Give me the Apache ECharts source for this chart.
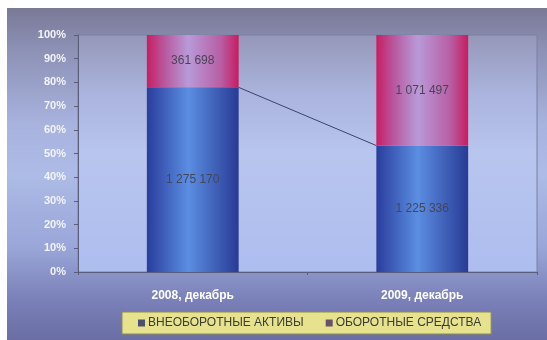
<!DOCTYPE html>
<html><head><meta charset="utf-8">
<script src="https://cdn.jsdelivr.net/npm/echarts@6/dist/echarts.min.js"></script>
<style>
html,body{margin:0;padding:0;background:#fff;}
#panel{position:absolute;left:7px;top:8px;width:540px;height:332px;
background:linear-gradient(to bottom,#7a7997 0%,#8c90b4 12%,#a8b3de 35%,#adbbe6 50%,#9aa6d8 72%,#7a80b8 88%,#6a6ea4 100%);}
#chart{position:absolute;left:0;top:0;width:547px;height:340px;}
</style></head>
<body>
<div id="panel"></div>
<div id="chart"></div>
<script>
const categories = ['2008, декабрь', '2009, декабрь'];
const seriesNames = ['ВНЕОБОРОТНЫЕ АКТИВЫ', 'ОБОРОТНЫЕ СРЕДСТВА'];
const nonCurrentAssets = [1275170, 1225336];
const currentAssets = [361698, 1071497];
const yTicks = [0, 10, 20, 30, 40, 50, 60, 70, 80, 90, 100];

const totals = nonCurrentAssets.map((v, i) => v + currentAssets[i]);
const pctNon = nonCurrentAssets.map((v, i) => v / totals[i] * 100);
const pctCur = currentAssets.map((v, i) => v / totals[i] * 100);
const fmt = v => String(v).replace(/\B(?=(\d{3})+(?!\d))/g, ' ');

const FONT = 'Liberation Sans';
const chart = echarts.init(document.getElementById('chart'), null, {renderer: 'canvas'});
const blueGrad = new echarts.graphic.LinearGradient(0, 0, 1, 0, [
  {offset: 0, color: '#2a3d9c'}, {offset: 0.45, color: '#5b8ee2'}, {offset: 1, color: '#283a94'}]);
const pinkGrad = new echarts.graphic.LinearGradient(0, 0, 1, 0, [
  {offset: 0, color: '#c81e62'}, {offset: 0.2, color: '#b85aa0'}, {offset: 0.45, color: '#b89ad8'}, {offset: 0.8, color: '#b860a6'}, {offset: 1, color: '#c81c5e'}]);

chart.setOption({
  backgroundColor: 'transparent',
  animation: false,
  grid: {
    left: 78, right: 10, top: 35, bottom: 68, show: true,
    backgroundColor: new echarts.graphic.LinearGradient(0, 0, 0, 1, [
      {offset: 0, color: '#9597b8'}, {offset: 0.25, color: '#aab4de'}, {offset: 0.5, color: '#b8c5ee'}, {offset: 1, color: '#adbdee'}]),
    borderColor: '#7a80a4', borderWidth: 1
  },
  legend: {
    data: [
      {name: seriesNames[0], itemStyle: {color: '#4c5070'}},
      {name: seriesNames[1], itemStyle: {color: '#6a5068'}}
    ],
    top: 312, left: 122, icon: 'rect', itemWidth: 7, itemHeight: 7, itemGap: 22,
    padding: [5, 10, 5, 16],
    backgroundColor: '#e6e28e', borderColor: '#8e8a52', borderWidth: 1,
    textStyle: {fontFamily: FONT, fontSize: 12, color: '#3c3c34', padding: [0, 0, 0, -2]}
  },
  xAxis: {
    type: 'category', data: categories,
    axisLine: {lineStyle: {color: '#5a5e78'}},
    axisTick: {show: true, length: 3, lineStyle: {color: '#5a5e78'}},
    axisLabel: {color: '#ffffff', fontFamily: FONT, fontWeight: 'bold', fontSize: 12, margin: 18}
  },
  yAxis: {
    type: 'value', min: 0, max: 100, interval: 10,
    splitLine: {show: false},
    axisLine: {show: true, lineStyle: {color: '#5a5e78'}},
    axisTick: {show: true, length: 4, lineStyle: {color: '#5a5e78'}},
    axisLabel: {formatter: v => yTicks.includes(v) ? v + '%' : '', color: '#f4f4fa', fontFamily: FONT, fontWeight: 'bold', fontSize: 11, margin: 12}
  },
  series: [
    {
      name: seriesNames[0], type: 'bar', stack: 's', barWidth: '40%',
      data: pctNon, itemStyle: {color: blueGrad},
      label: {show: true, position: 'inside', formatter: p => fmt(nonCurrentAssets[p.dataIndex]), color: '#44465a', fontFamily: FONT, fontSize: 12}
    },
    {
      name: seriesNames[1], type: 'bar', stack: 's', barWidth: '40%',
      data: pctCur, itemStyle: {color: pinkGrad},
      label: {show: true, position: 'inside', formatter: p => fmt(currentAssets[p.dataIndex]), color: '#4a4458', fontFamily: FONT, fontSize: 12}
    },
    {
      name: 'connector', type: 'custom', z: 5,
      data: pctNon.map((v, i) => [i, v]),
      renderItem: function (params, api) {
        if (params.dataIndex !== 0) return null;
        const p0 = api.coord([0, pctNon[0]]);
        const p1 = api.coord([1, pctNon[1]]);
        const hw = api.size([1, 0])[0] * 0.4 / 2;
        return {type: 'line', shape: {x1: p0[0] + hw, y1: p0[1], x2: p1[0] - hw, y2: p1[1]},
          style: {stroke: '#3c4270', lineWidth: 1}};
      }
    }
  ]
});
</script>
</body></html>
